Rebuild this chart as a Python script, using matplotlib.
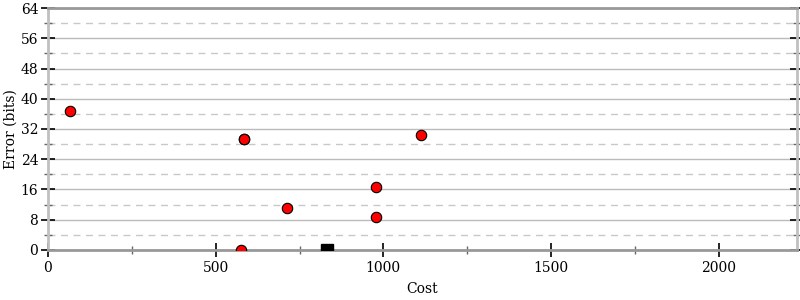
import matplotlib
matplotlib.use('Agg')
import matplotlib.pyplot as plt
from matplotlib.ticker import MultipleLocator

plt.rcParams.update({
    'font.family': 'DejaVu Serif',
    'font.size': 10,
})

# ── Data ────────────────────────────────────────────────────────────
cost_red = [66, 584, 585, 1113, 714, 977, 977, 577]
error_red = [36.8, 29.4, 29.4, 30.4, 11.1, 16.6, 8.65, 0.0]

cost_best = [832]
error_best = [0.0]

fig = plt.figure(figsize=(8, 3), dpi=100)
ax = fig.add_axes([0.06, 0.167, 0.936, 0.806])

ax.set_xlim(0, 2233)
ax.set_ylim(0, 64)

# grid: solid at major, dashed at minor (y only)
ax.yaxis.set_major_locator(MultipleLocator(8))
ax.yaxis.set_minor_locator(MultipleLocator(4))
ax.xaxis.set_major_locator(MultipleLocator(500))
ax.xaxis.set_minor_locator(MultipleLocator(250))
ax.grid(True, which='major', axis='y', color='#bbbbbb', lw=1.0, ls='-')
ax.grid(True, which='minor', axis='y', color='#c8c8c8', lw=1.0, ls=(0, (5, 4)))
ax.set_axisbelow(True)

for side in ['left', 'right']:
    ax.spines[side].set_color('#c0c0c0')
    ax.spines[side].set_linewidth(2.0)
for side in ['top', 'bottom']:
    ax.spines[side].set_color('#999999')
    ax.spines[side].set_linewidth(2.0)

ax.tick_params(axis='y', which='major', direction='inout', length=10, width=1.2,
               color='black', left=True, right=True, labelsize=10, pad=2)
ax.tick_params(axis='y', which='minor', direction='inout', length=6, width=1.0,
               color='#666666', left=True, right=True)
ax.tick_params(axis='x', which='major', direction='inout', length=10, width=1.2,
               color='black', labelsize=10, pad=3)
ax.tick_params(axis='x', which='minor', direction='inout', length=6, width=1.0,
               color='#666666')

ax.plot(cost_red, error_red, 'o', ms=7.5, mfc='red', mec='black', mew=0.8,
        zorder=3, clip_on=True)
ax.plot(cost_best, error_best, 's', ms=8.5, mfc='black', mec='black',
        zorder=3, clip_on=True)

ax.set_xlabel('Cost', labelpad=5)
ax.set_ylabel('Error (bits)', labelpad=2)

fig.savefig('out.png', dpi=100, facecolor='white')
